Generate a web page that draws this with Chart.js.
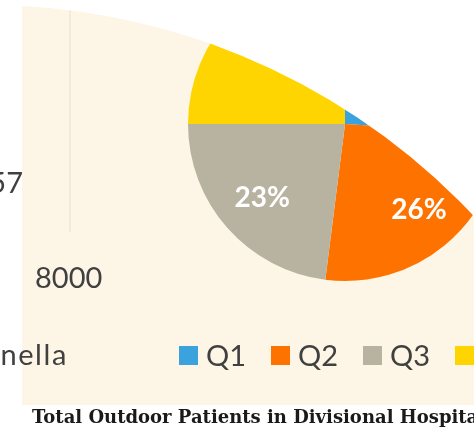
<!DOCTYPE html>
<html>
<head>
<meta charset="utf-8">
<script src="https://cdn.jsdelivr.net/npm/chart.js@4/dist/chart.umd.min.js"></script>
<style>
  html, body { margin: 0; padding: 0; background: #ffffff; }
  #wrap { position: relative; width: 474px; height: 434px; overflow: hidden; background: #ffffff; }
  #c { position: absolute; left: 0; top: 0; }
  .txt { position: absolute; white-space: nowrap; font-family: Lato, 'Open Sans', sans-serif; font-size: 29px; line-height: 36px; color: #404040; }
  #legend { position: absolute; left: 179px; top: 337px; height: 36px; display: flex; align-items: center; white-space: nowrap;
            font-family: Lato, 'Open Sans', sans-serif; font-size: 29px; line-height: 36px; color: #404040; }
  #legend .item { display: flex; align-items: center; margin-right: 25px; }
  #legend .box { width: 19px; height: 19px; margin-right: 8px; }
  #title { position: absolute; left: 32px; top: 405px; white-space: nowrap; font-family: 'DejaVu Serif', serif; font-weight: bold;
           font-size: 18px; line-height: 24px; color: #1a1a1a; }
</style>
</head>
<body>
<div id="wrap">
  <canvas id="c" width="474" height="434"></canvas>
  <div class="txt" id="t57" style="right:451px; top:164px;"></div>
  <div class="txt" id="t8000" style="left:35px; top:259px;"></div>
  <div class="txt" id="tnella" style="right:406px; top:336px; letter-spacing:1.6px;"></div>
  <div id="legend"></div>
  <div id="title"></div>
</div>
<script>
// ---- data ----
const categories = ['Q1', 'Q2', 'Q3', 'Q4'];
const shares = [26, 26, 23, 25];          // percent of total outdoor patients
const sliceColors = ['#3aa3dd', '#fe7300', '#b8b3a1', '#fed500'];
const leftFragments = ['57', '8000', 'nella']; // cut-off texts from the neighbouring chart
const titleText = 'Total Outdoor Patients in Divisional Hospital';

document.getElementById('t57').textContent = leftFragments[0];
document.getElementById('t8000').textContent = leftFragments[1];
document.getElementById('tnella').textContent = leftFragments[2];
document.getElementById('title').textContent = titleText;

const legendEl = document.getElementById('legend');
categories.forEach((cat, i) => {
  const item = document.createElement('div');
  item.className = 'item';
  const box = document.createElement('span');
  box.className = 'box';
  box.style.background = sliceColors[i];
  const lab = document.createElement('span');
  lab.textContent = cat;
  item.appendChild(box); item.appendChild(lab);
  legendEl.appendChild(item);
});

const CREAM = '#fdf6e6';
const backdrop = {
  id: 'backdrop',
  beforeDraw(chart) {
    const ctx = chart.ctx;
    ctx.save();
    ctx.fillStyle = '#ffffff';
    ctx.fillRect(0, 0, chart.width, chart.height);
    ctx.fillStyle = CREAM;
    ctx.fillRect(22, 0, chart.width - 22, 405);
    ctx.strokeStyle = '#f3ebd9';
    ctx.lineWidth = 2;
    ctx.beginPath();
    ctx.moveTo(70, 0);
    ctx.lineTo(70, 232);
    ctx.stroke();
    ctx.restore();
  },
  afterDatasetsDraw(chart) {
    const ctx = chart.ctx;
    const meta = chart.getDatasetMeta(0);
    const data = chart.data.datasets[0].data;
    const total = data.reduce((a, b) => a + b, 0);
    ctx.save();
    ctx.fillStyle = '#ffffff';
    ctx.font = 'bold 28px Lato, "Open Sans", sans-serif';
    ctx.textAlign = 'center';
    ctx.textBaseline = 'middle';
    meta.data.forEach((arc, i) => {
      const p = arc.getProps(['x', 'y', 'startAngle', 'endAngle', 'outerRadius'], true);
      const mid = (p.startAngle + p.endAngle) / 2;
      const d = p.outerRadius * 0.72;
      ctx.fillText(Math.round(data[i] / total * 100) + '%', p.x + Math.cos(mid) * d + 2, p.y + Math.sin(mid) * d - 1);
    });
    // page edge: everything outside the large cream curve is white
    ctx.beginPath();
    ctx.rect(0, 0, chart.width, chart.height);
    ctx.arc(-13.5, 673.3, 668.2, 0, Math.PI * 2, true);
    ctx.fillStyle = '#ffffff';
    ctx.fill('evenodd');
    ctx.restore();
  }
};

new Chart(document.getElementById('c'), {
  type: 'pie',
  data: {
    labels: categories,
    datasets: [{ data: shares, backgroundColor: sliceColors, borderWidth: 0 }]
  },
  options: {
    responsive: false,
    animation: false,
    devicePixelRatio: 1,
    radius: 157,
    layout: { padding: { left: 216, right: 0, top: 0, bottom: 186 } },
    plugins: { legend: { display: false }, tooltip: { enabled: false } }
  },
  plugins: [backdrop]
});
</script>
</body>
</html>
